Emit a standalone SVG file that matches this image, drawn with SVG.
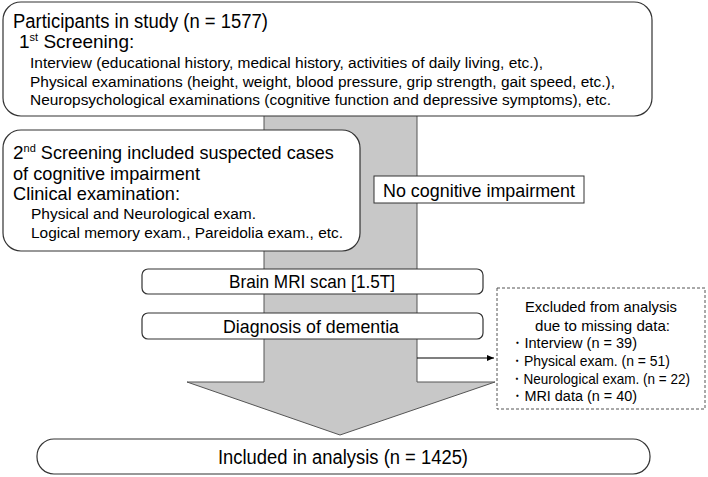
<svg xmlns="http://www.w3.org/2000/svg" width="708" height="477" viewBox="0 0 708 477">
<style>
text{font-family:"Liberation Sans",Arial,sans-serif;fill:#000}
.box{fill:#fff;stroke:#333;stroke-width:1.2}
.big{font-size:20px}
.mid{font-size:19px}
.sm{font-size:15.5px}
.ex{font-size:15px}
</style>
<defs><marker id="ah" markerWidth="8" markerHeight="8" refX="7" refY="4" orient="auto" markerUnits="userSpaceOnUse"><path d="M0,1 L7,4 L0,7 Z" fill="#000"/></marker></defs>
<g id="flow-arrow"><path d="M264,110 H417 V382 H495 L340,435 L187,382 H264 Z" fill="#c8c8c8" stroke="#555" stroke-width="1"/></g>
<g id="node-participants">
<rect class="box" x="3" y="2" width="649" height="114" rx="18"/>
<text class="big" x="13" y="28" textLength="255" lengthAdjust="spacingAndGlyphs">Participants in study (n = 1577)</text>
<text class="mid" x="19" y="48">1<tspan font-size="11" dy="-7">st</tspan><tspan dy="7"> Screening:</tspan></text>
<text class="sm" x="30" y="68" textLength="513" lengthAdjust="spacingAndGlyphs">Interview (educational history, medical history, activities of daily living, etc.),</text>
<text class="sm" x="30" y="87" textLength="585" lengthAdjust="spacingAndGlyphs">Physical examinations (height, weight, blood pressure, grip strength, gait speed, etc.),</text>
<text class="sm" x="30" y="105" textLength="581" lengthAdjust="spacingAndGlyphs">Neuropsychological examinations (cognitive function and depressive symptoms), etc.</text>
</g>
<g id="node-second">
<rect class="box" x="3" y="130" width="357" height="121" rx="18"/>
<text class="mid" x="13" y="159">2<tspan font-size="11" dy="-7">nd</tspan><tspan dy="7" textLength="298" lengthAdjust="spacingAndGlyphs"> Screening included suspected cases</tspan></text>
<text class="mid" x="13" y="180" textLength="187" lengthAdjust="spacingAndGlyphs">of cognitive impairment</text>
<text class="mid" x="13" y="200" textLength="167" lengthAdjust="spacingAndGlyphs">Clinical examination:</text>
<text class="sm" x="31" y="219" textLength="225" lengthAdjust="spacingAndGlyphs">Physical and Neurological exam.</text>
<text class="sm" x="31" y="238" textLength="312" lengthAdjust="spacingAndGlyphs">Logical memory exam., Pareidolia exam., etc.</text>
</g>
<g id="node-nocog">
<rect x="374" y="176" width="210" height="27" fill="#fff" stroke="#333" stroke-width="1"/>
<text class="mid" x="383" y="197" textLength="192" lengthAdjust="spacingAndGlyphs">No cognitive impairment</text>
</g>
<g id="node-mri">
<rect class="box" x="142" y="269" width="341" height="25" rx="6"/>
<text class="mid" x="229" y="288" textLength="166" lengthAdjust="spacingAndGlyphs">Brain MRI scan [1.5T]</text>
</g>
<g id="node-diag">
<rect class="box" x="142" y="313" width="341" height="26" rx="6"/>
<text class="mid" x="223" y="333" textLength="176" lengthAdjust="spacingAndGlyphs">Diagnosis of dementia</text>
</g>
<g id="node-excluded">
<rect x="497" y="288" width="208" height="121" fill="#fff" stroke="#555" stroke-width="1" stroke-dasharray="3,2"/>
<text class="ex" x="525" y="312" textLength="152" lengthAdjust="spacingAndGlyphs">Excluded from analysis</text>
<text class="ex" x="535" y="331" textLength="135" lengthAdjust="spacingAndGlyphs">due to missing data:</text>
<text class="ex" x="510" y="348" textLength="127" lengthAdjust="spacingAndGlyphs">・Interview (n = 39)</text>
<text class="ex" x="510" y="366" textLength="160" lengthAdjust="spacingAndGlyphs">・Physical exam. (n = 51)</text>
<text class="ex" x="510" y="384" textLength="180" lengthAdjust="spacingAndGlyphs">・Neurological exam. (n = 22)</text>
<text class="ex" x="510" y="401" textLength="127" lengthAdjust="spacingAndGlyphs">・MRI data (n = 40)</text>
</g>
<g id="node-included">
<rect class="box" x="37" y="439" width="613" height="35" rx="17"/>
<text class="big" x="218" y="464" textLength="250" lengthAdjust="spacingAndGlyphs">Included in analysis (n = 1425)</text>
</g>
<g id="connectors">
<line x1="417" y1="358" x2="494" y2="358" stroke="#000" stroke-width="1.2" marker-end="url(#ah)"/>
</g>
</svg>
